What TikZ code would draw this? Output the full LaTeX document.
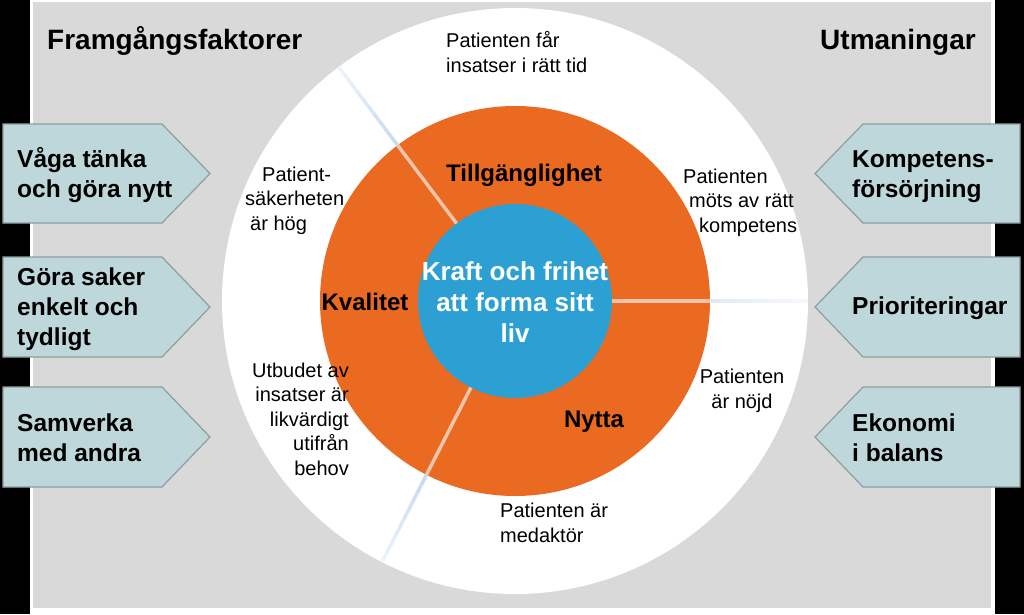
\documentclass[tikz,border=0pt]{standalone}
\usepackage{fontspec}
\setmainfont{Liberation Sans}
\usetikzlibrary{calc}
\definecolor{panel}{RGB}{217,217,217}
\definecolor{orng}{RGB}{233,106,32}
\definecolor{blu}{RGB}{44,160,210}
\definecolor{boxfill}{RGB}{190,215,218}
\definecolor{boxline}{RGB}{140,158,160}
\definecolor{peach}{RGB}{240,196,170}
\definecolor{paleblue}{RGB}{200,218,240}
\begin{document}
\begin{tikzpicture}[x=1pt,y=-1pt,
  arrowbox/.style={fill=boxfill,draw=boxline,line width=1.2pt},
  boxtext/.style={font=\fontsize{24.5}{30}\selectfont\bfseries,align=left,anchor=base west,inner sep=0pt},
  titletext/.style={font=\fontsize{28}{33}\selectfont\bfseries,inner sep=0pt},
  ringtext/.style={font=\fontsize{20}{24.5}\selectfont,inner sep=0pt},
  sectortext/.style={font=\fontsize{24}{29}\selectfont\bfseries,inner sep=0pt,anchor=base},
  divin/.style={draw=peach,line width=3.5pt}]
\useasboundingbox (0,0) rectangle (1024,614);
\fill[white] (0,0) rectangle (1024,614);
\fill[black] (0,0) rectangle (30,614);
\fill[black] (995,0) rectangle (1024,614);
\fill[panel] (33,2) rectangle (991,608);
\coordinate (c) at (515,301);
\fill[white] (c) circle[radius=293];
\fill[orng] (c) circle[radius=195];
% dividing lines
\coordinate (a1) at ($(c)+(-127:95)$);
\coordinate (a2) at ($(c)+(-127:195)$);
\coordinate (b1) at ($(c)+(0:95)$);
\coordinate (b2) at ($(c)+(0:195)$);
\coordinate (d1) at ($(c)+(117:95)$);
\coordinate (d2) at ($(c)+(117:195)$);
\draw[divin] (a1) -- (a2);
\draw[divin] (b1) -- (b2);
\draw[divin] (d1) -- (d2);
\foreach \ang/\st in {-127/100,0/55,117/100}{
  \foreach \i in {0,...,9}{
    \pgfmathsetmacro{\ra}{195+\i*9.7}
    \pgfmathsetmacro{\rb}{195+(\i+1)*9.7+0.5}
    \pgfmathsetmacro{\pc}{\st*(1-\i*0.075)}
    \draw[draw=paleblue!\pc!white,line width=3.5pt] ($(c)+(\ang:\ra)$) -- ($(c)+(\ang:\rb)$);
  }
}
\fill[blu] (c) circle[radius=97];
% titles
\node[titletext,anchor=base west] (tl) at (47,49) {Framgångsfaktorer};
\node[titletext,anchor=base east] (tr) at (976,49) {Utmaningar};
% left boxes
\draw[arrowbox] (3,124) -- (162,124) -- (210,173.5) -- (162,223) -- (3,223) -- cycle;
\draw[arrowbox] (3,257) -- (162,257) -- (210,307) -- (162,357) -- (3,357) -- cycle;
\draw[arrowbox] (3,387) -- (162,387) -- (210,437) -- (162,487) -- (3,487) -- cycle;
\node[boxtext] (l1) at (17,197) {Våga tänka\\och göra nytt};
\node[boxtext] (l2) at (17,345) {Göra saker\\enkelt och\\tydligt};
\node[boxtext] (l3) at (17,461) {Samverka\\med andra};
% right boxes
\draw[arrowbox] (1020,124) -- (863,124) -- (815,173.5) -- (863,223) -- (1020,223) -- cycle;
\draw[arrowbox] (1020,257) -- (863,257) -- (815,307) -- (863,357) -- (1020,357) -- cycle;
\draw[arrowbox] (1020,387) -- (863,387) -- (815,437) -- (863,487) -- (1020,487) -- cycle;
\node[boxtext] (r1) at (852,197) {Kompetens-\\försörjning};
\node[boxtext] (r2) at (852,314) {Prioriteringar};
\node[boxtext] (r3) at (852,461) {Ekonomi\\i balans};
% ring texts
\node[ringtext,align=left,anchor=base west] (t1) at (446,72) {Patienten får\\insatser i rätt tid};
\node[ringtext,align=left,anchor=base west] (t2) at (245,230) {\hspace*{17pt}Patient-\\säkerheten\\\hspace*{5pt}är hög};
\node[ringtext,align=left,anchor=base west] (t3) at (683,232) {Patienten\\\hspace*{6pt}möts av rätt\\\hspace*{16pt}kompetens};
\node[ringtext,align=right,anchor=base east] (t4) at (349,475) {Utbudet av\\insatser är\\likvärdigt\\utifrån\\behov};
\node[ringtext,align=center,anchor=base] (t5) at (742,408) {Patienten\\är nöjd};
\node[ringtext,align=left,anchor=base west] (t6) at (500,542) {Patienten är\\medaktör};
% sector labels
\node[sectortext] (s1) at (524,181) {Tillgänglighet};
\node[sectortext] (s2) at (365,310) {Kvalitet};
\node[sectortext] (s3) at (594,427) {Nytta};
% centre
\node[font=\fontsize{26}{31}\selectfont\bfseries,text=white,align=center,anchor=base,inner sep=0pt] (ctr) at (515,342) {Kraft och frihet\\att forma sitt\\liv};
\end{tikzpicture}
\end{document}
